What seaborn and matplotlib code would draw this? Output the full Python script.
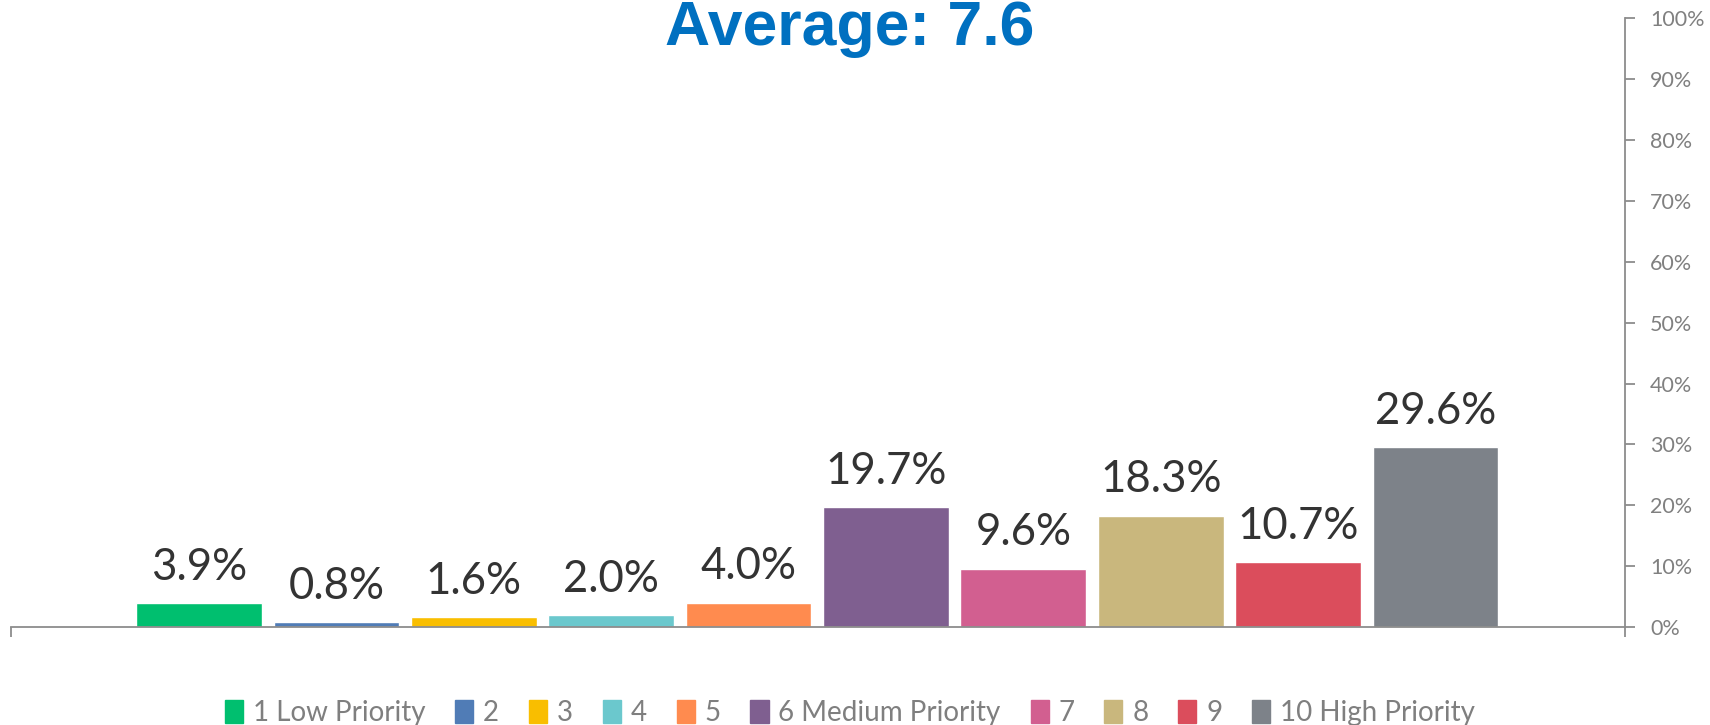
import matplotlib
matplotlib.use("Agg")
import matplotlib.pyplot as plt
import seaborn as sns
import pandas as pd
from matplotlib.ticker import PercentFormatter

# Data
categories = ["1 Low Priority", "2", "3", "4", "5", "6 Medium Priority",
              "7", "8", "9", "10 High Priority"]
values = [3.9, 0.8, 1.6, 2.0, 4.0, 19.7, 9.6, 18.3, 10.7, 29.6]
colors = ["#00BF6F", "#507CB6", "#F9BE00", "#6BC8CD", "#FF8B4F",
          "#7F5F90", "#D25F90", "#C9B77D", "#DB4D5C", "#7D8289"]
title = "Average: 7.6"

df = pd.DataFrame({"category": categories, "value": values})

sns.set_style("white")
plt.rcParams["font.family"] = ["Lato", "DejaVu Sans"]

fig = plt.figure(figsize=(17.1, 7.25), dpi=100)
ax = fig.add_axes([0.0064, 0.1352, 0.9439, 0.8393])

sns.barplot(data=df, x="category", y="value", hue="category",
            palette=colors, order=categories, hue_order=categories,
            dodge=False, width=0.915, saturation=1, legend=False, ax=ax)

for cont in ax.containers:
    ax.bar_label(cont, fmt="%.1f%%", padding=11, fontsize=31.5, color="#333333")

ax.set_xlim(-1.37, 9 + 1.38)
ax.set_ylim(0, 100)
ax.set_xlabel("")
ax.set_ylabel("")

# y axis on right
ax.yaxis.tick_right()
ax.yaxis.set_major_formatter(PercentFormatter(decimals=0))
ax.set_yticks(range(0, 101, 10))
ax.tick_params(axis="y", direction="out", length=7, width=1.3, color="#8C8C8C",
               labelsize=15.5, labelcolor="#808080", pad=11, right=True, left=False)

# category boundaries on x axis
ax.set_xticks([-1.37, 10.38])
ax.set_xticklabels(["", ""])
ax.tick_params(axis="x", direction="out", length=7, width=1.3, color="#8C8C8C",
               bottom=True)

for s in ["top", "left"]:
    ax.spines[s].set_visible(False)
for s in ["bottom", "right"]:
    ax.spines[s].set_color("#8C8C8C")
    ax.spines[s].set_linewidth(1.3)

fig.text(0.497, 0.938, title, ha="center", va="baseline", fontsize=45,
         fontweight="bold", color="#0070C0", family=["Liberation Sans", "DejaVu Sans"])

handles = [plt.Rectangle((0, 0), 1, 1, color=c) for c in colors]
fig.legend(handles, categories, loc="center", bbox_to_anchor=(0.497, 0.017),
           ncol=10, frameon=False, fontsize=20, labelcolor="#7F7F7F",
           handlelength=0.65, handleheight=0.9, handletextpad=0.35,
           columnspacing=1.08)

fig.savefig("out.png", dpi=100)
